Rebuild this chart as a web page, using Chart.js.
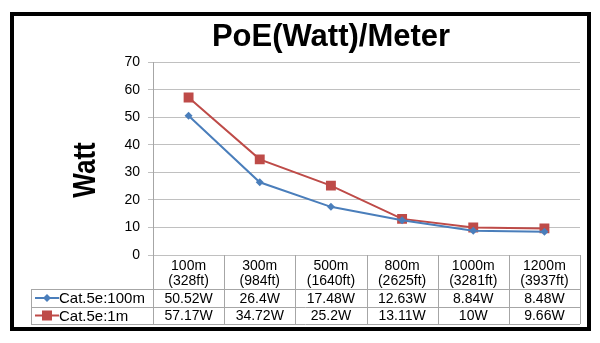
<!DOCTYPE html>
<html>
<head>
<meta charset="utf-8">
<script src="https://cdn.jsdelivr.net/npm/chart.js@4.4.1/dist/chart.umd.min.js"></script>
<style>
body{margin:0;background:#fff}
#box{width:600px;height:343px}
</style>
</head>
<body>
<div id="box"><canvas id="myChart"></canvas></div>
<script>
let distancias=[['100m','(328ft)'],['300m','(984ft)'],['500m','(1640ft)'],['800m','(2625ft)'],['1000m','(3281ft)'],['1200m','(3937ft)']]
let series=['Cat.5e:100m','Cat.5e:1m']
let cat100m=[50.52, 26.4, 17.48, 12.63, 8.84, 8.48]
let cat1m=[57.17, 34.72, 25.2, 13.11, 10, 9.66]
let ticksY=[0,10,20,30,40,50,60,70]
let tituloY='Watt'
let azul='#4a7ebb'
let vermelho='#be4b48'
let fonte='"Liberation Sans", Arial, sans-serif'

function marcador(ctx,tipo,x,y,cor){
    ctx.fillStyle=cor
    if(tipo=='rect'){
        ctx.fillRect(x-5,y-5,10,10)
    }else{
        ctx.beginPath()
        ctx.moveTo(x,y-4);ctx.lineTo(x+4,y);ctx.lineTo(x,y+4);ctx.lineTo(x-4,y)
        ctx.closePath();ctx.fill()
    }
}

// moldura preta, titulo do eixo Y e tabela de dados embaixo do grafico
const tabela={
    id:'tabela',
    beforeDraw:(chart)=>{
        let ctx=chart.ctx
        ctx.save()
        ctx.fillStyle='#fff'
        ctx.fillRect(0,0,chart.width,chart.height)
        ctx.strokeStyle='#000'
        ctx.lineWidth=4
        ctx.strokeRect(12,14,577,315)
        ctx.restore()
    },
    afterDraw:(chart)=>{
        let ctx=chart.ctx
        let area=chart.chartArea
        let n=distancias.length
        let w=(area.right-area.left)/n
        let linha1=289
        let linha2=307
        let fim=324
        let esq=31
        ctx.save()
        // titulo Watt condensado
        ctx.save()
        ctx.translate(86,170)
        ctx.rotate(-Math.PI/2)
        ctx.scale(0.84,1)
        ctx.font='bold 31px '+fonte
        ctx.fillStyle='#000'
        ctx.textAlign='center'
        ctx.textBaseline='middle'
        ctx.fillText(tituloY,0,0)
        ctx.restore()

        ctx.strokeStyle='#a6a6a6'
        ctx.lineWidth=1
        ctx.beginPath()
        for(let k=0;k<=n;k++){
            let x=Math.round(area.left+k*w)+0.5
            ctx.moveTo(x,area.bottom);ctx.lineTo(x,fim)
        }
        ctx.moveTo(esq+0.5,linha1);ctx.lineTo(esq+0.5,fim)
        for(let y of [linha1,linha2,fim]){
            ctx.moveTo(esq,y+0.5);ctx.lineTo(area.right,y+0.5)
        }
        ctx.stroke()
        ctx.fillStyle='#000'
        ctx.textAlign='center'
        ctx.textBaseline='middle'
        let dados=[cat100m,cat1m]
        let cores=[azul,vermelho]
        let tipos=['diamond','rect']
        let ys=[(linha1+linha2)/2+1,(linha2+fim)/2+1]
        for(let s=0;s<dados.length;s++){
            ctx.font='14px '+fonte
            for(let i=0;i<n;i++){
                ctx.fillText(dados[s][i]+'W',chart.scales.x.getPixelForValue(i),ys[s])
            }
            ctx.strokeStyle=cores[s]
            ctx.lineWidth=2
            ctx.beginPath();ctx.moveTo(35,ys[s]-1);ctx.lineTo(59,ys[s]-1);ctx.stroke()
            marcador(ctx,tipos[s],47,ys[s]-1,cores[s])
            ctx.fillStyle='#000'
            ctx.textAlign='left'
            ctx.font='15px '+fonte
            ctx.fillText(series[s],59,ys[s])
            ctx.textAlign='center'
        }
        ctx.restore()
    }
}

const ctx=document.getElementById('myChart')
let a=new Chart(ctx,{
    type:'line',
    data:{
        labels:distancias,
        datasets:[{
            label:series[0],
            data:cat100m,
            borderColor:azul,
            backgroundColor:azul,
            borderWidth:2,
            pointStyle:'rectRot',
            pointRadius:4,
            pointBorderWidth:0
        },{
            label:series[1],
            data:cat1m,
            borderColor:vermelho,
            backgroundColor:vermelho,
            borderWidth:2,
            pointStyle:'rect',
            pointRadius:7,
            pointBorderWidth:0
        }]
    },
    options:{
        responsive:true,
        maintainAspectRatio:false,
        animation:false,
        layout:{padding:{left:82,right:20,top:15,bottom:54}},
        plugins:{
            legend:{display:false},
            tooltip:{enabled:false},
            title:{
                display:true,
                text:'PoE(Watt)/Meter',
                color:'#000',
                font:{family:fonte,size:31,weight:'bold',lineHeight:1.2},
                padding:{top:4,bottom:6}
            }
        },
        scales:{
            x:{
                offset:true,
                grid:{display:false,drawTicks:false},
                border:{display:false},
                ticks:{color:'#000',font:{family:fonte,size:14,lineHeight:1.1},padding:3,maxRotation:0,autoSkip:false},
                afterFit:(scale)=>{scale.height=34}
            },
            y:{
                min:ticksY[0],
                max:ticksY[ticksY.length-1],
                afterBuildTicks:(scale)=>{scale.ticks=ticksY.map(v=>({value:v}))},
                grid:{color:'#c0c0c0',tickLength:5},
                border:{color:'#a6a6a6'},
                ticks:{color:'#000',font:{family:fonte,size:14},padding:8},
                afterFit:(scale)=>{scale.width=153-82}
            }
        }
    },
    plugins:[tabela]
})
</script>
</body>
</html>
